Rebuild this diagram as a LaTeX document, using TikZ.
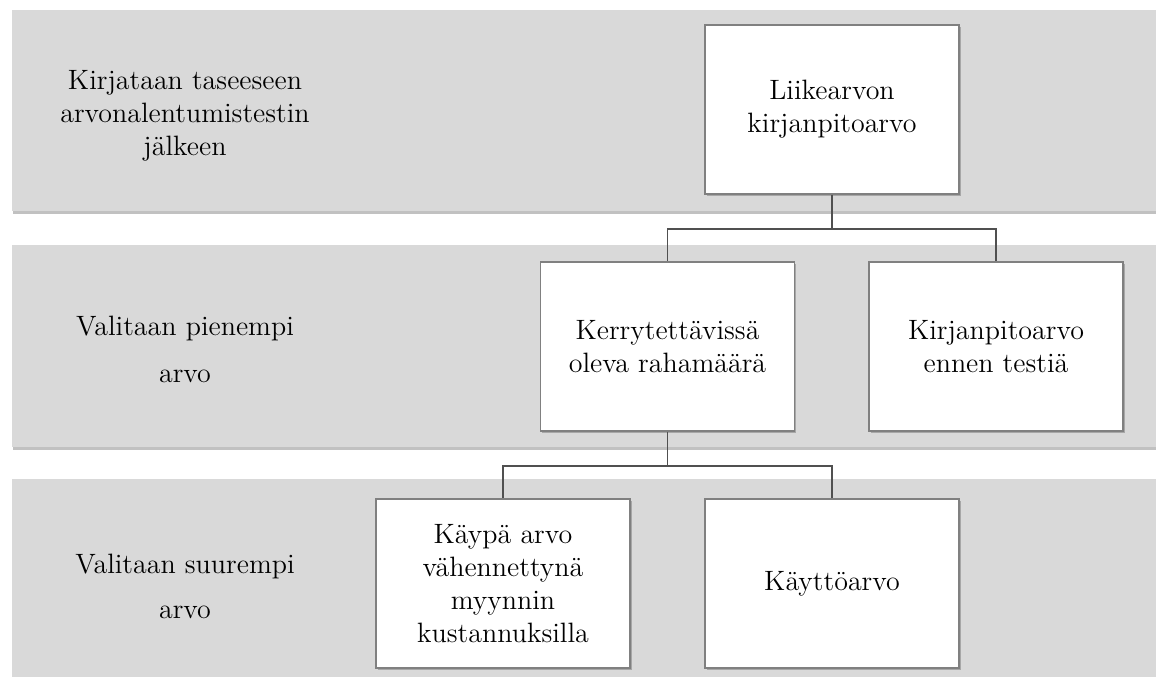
\documentclass[tikz,border=0pt]{standalone}
\usetikzlibrary{shadows}
\definecolor{bandGray}{RGB}{217,217,217}
\definecolor{cardEdge}{RGB}{128,128,128}
\definecolor{linkGray}{RGB}{80,80,80}

\begin{document}
\begin{tikzpicture}[
  x=0.5pt, y=-0.5pt,
  font=\fontsize{14}{16.5}\selectfont,
  band/.style={
    fill=bandGray,
    drop shadow={shadow xshift=0.6pt, shadow yshift=-1.4pt,
      opacity=0.35, fill=black!70},
  },
  card/.style={
    draw=cardEdge,
    fill=white,
    line width=0.7pt,
    minimum width=127pt,
    minimum height=84.5pt,
    align=center,
    inner sep=2pt,
    drop shadow={shadow xshift=0.8pt, shadow yshift=-1.2pt,
      opacity=0.35, fill=black!70},
  },
  link/.style={draw=linkGray, line width=0.55pt},
  rowlbl/.style={align=center},
]
  \useasboundingbox (0,0) rectangle (1156,676);

  % bands
  \path[band] (12,10) rectangle (1180,211);
  \path[band] (12,245) rectangle (1180,447);
  \path[band] (12,479) rectangle (1180,700);

  \node[rowlbl] (rowtop) at (185,116)
    {Kirjataan taseeseen\\arvonalentumistestin\\jälkeen};
  \node[rowlbl] (rowmid) at (185,349)
    {Valitaan pienempi\\[7pt]arvo};
  \node[rowlbl] (rowlow) at (185,586)
    {Valitaan suurempi\\[6pt]arvo};

  % hierarchy
  \node[card] (goodwill) at (832,109.5) {Liikearvon\\kirjanpitoarvo};
  \node[card] (recov) at (667.5,346.5) {Kerrytettävissä\\oleva rahamäärä};
  \node[card] (carry) at (996,346.5) {Kirjanpitoarvo\\ennen testiä};
  \node[card] (fairval) at (503,583.5)
    {Käypä arvo\\vähennettynä\\myynnin\\kustannuksilla};
  \node[card] (useval) at (832,583.5) {Käyttöarvo};

  \coordinate (fork1) at (832,229);
  \coordinate (fork2) at (667.5,466);

  \draw[link] (goodwill.south) -- (fork1);
  \draw[link] (fork1) -| (recov.north);
  \draw[link] (fork1) -| (carry.north);
  \draw[link] (recov.south) -- (fork2);
  \draw[link] (fork2) -| (fairval.north);
  \draw[link] (fork2) -| (useval.north);

\end{tikzpicture}
\end{document}
